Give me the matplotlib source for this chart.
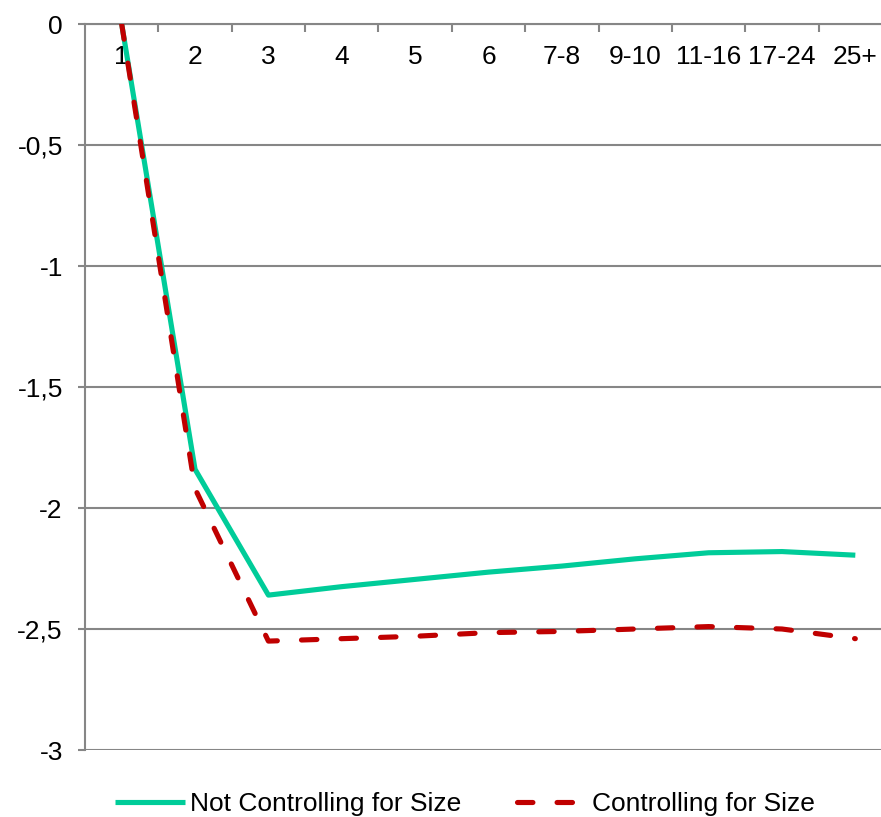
import numpy as np
import matplotlib.pyplot as plt
from matplotlib.ticker import MultipleLocator, FuncFormatter

plt.rcParams['font.family'] = ['Liberation Sans', 'DejaVu Sans']

categorias = ["1", "2", "3", "4", "5", "6", "7-8", "9-10", "11-16", "17-24", "25+"]
sin_tamano = [0, -1.84, -2.36, -2.325, -2.295, -2.265, -2.24, -2.21, -2.185, -2.18, -2.195]
con_tamano = [0, -1.92, -2.55, -2.54, -2.53, -2.515, -2.51, -2.5, -2.49, -2.5, -2.54]

VERDE = "#00CC99"
ROJO = "#C00000"
GRIS = "#868686"


def main():
    fig = plt.figure(figsize=(8.81, 8.17), dpi=100)
    ax = fig.add_axes([85 / 881, 67 / 817, 807 / 881, 726 / 817])

    x = np.arange(len(categorias))
    ax.plot(x, sin_tamano, color=VERDE, lw=3.7, label="Not Controlling for Size",
            solid_capstyle="butt", zorder=3)
    ax.plot(x, con_tamano, color=ROJO, lw=3.7, label="Controlling for Size",
            dashes=(3.0, 4.7), dash_capstyle="round", zorder=4)

    ax.set_xlim(-0.5, len(categorias) - 0.5)
    ax.set_ylim(-3, 0)

    # eje x cruzando en 0 (arriba), etiquetas debajo
    ax.spines["bottom"].set_position(("data", 0))
    ax.spines["top"].set_visible(False)
    ax.spines["right"].set_visible(False)
    for s in ("bottom", "left"):
        ax.spines[s].set_color(GRIS)
        ax.spines[s].set_linewidth(1.5)

    ax.set_xticks(x)
    ax.set_xticklabels(categorias)
    ax.set_xticks(np.arange(0.5, len(categorias) - 0.5, 1), minor=True)
    ax.tick_params(axis="x", which="major", length=0, pad=15, labelsize=19)
    ax.tick_params(axis="x", which="minor", length=6, width=1.5, color=GRIS)

    ax.yaxis.set_major_locator(MultipleLocator(0.5))
    ax.yaxis.set_major_formatter(FuncFormatter(lambda v, p: ("%g" % v).replace(".", ",")))
    ax.tick_params(axis="y", length=5, width=1.5, color=GRIS, labelsize=19, pad=11)
    ax.grid(axis="y", color=GRIS, lw=1.5)
    ax.set_axisbelow(True)

    fig.legend(loc="center", bbox_to_anchor=(0.528, 0.016), ncol=2, frameon=False,
               fontsize=19, handlelength=2.65, columnspacing=2.1, handletextpad=0.2)

    fig.savefig("out.png", dpi=100)


if __name__ == "__main__":
    main()
